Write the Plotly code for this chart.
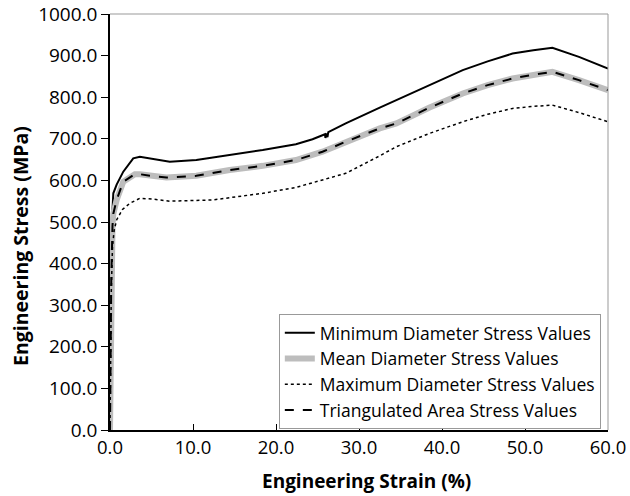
import plotly.graph_objects as go

strain_min = [0.0, 0.15, 0.3, 0.4, 0.8, 1.6, 2.8, 3.6, 4.8, 7.2, 10.4, 14.4, 18.4, 22.4, 24.4, 25.9, 25.95, 26.05, 26.2, 26.3, 28.4, 32.5, 34.5, 38.5, 42.5, 45.5, 48.5, 51.0, 53.3, 56.5, 60.0]
stress_min = [0, 380, 530, 569, 590, 621, 653, 657, 653, 645, 649, 661, 673, 687, 699, 711, 702, 713, 704, 716, 737, 775, 793, 830, 865, 886, 905, 913, 919, 897, 869]

strain_mean = [0.0, 0.15, 0.3, 0.4, 0.8, 1.6, 3.0, 3.6, 4.8, 6.8, 10.4, 14.4, 18.4, 22.4, 25.6, 28.4, 32.5, 34.5, 38.5, 42.5, 45.5, 48.5, 51.0, 53.3, 56.5, 60.0]
stress_mean = [0, 360, 490, 520, 553, 597, 615, 615, 611, 607, 611, 625, 635, 649, 669, 693, 725, 737, 775, 809, 829, 845, 854, 861, 841, 817]

strain_tri = strain_mean
stress_tri = [0, 360, 490, 520, 553, 597, 615, 615, 611, 607, 611, 625, 635, 649, 669, 693, 725, 737, 775, 809, 829, 845, 854, 861, 841, 817]

strain_max = [0.0, 0.15, 0.3, 0.5, 0.8, 1.5, 2.4, 3.6, 5.2, 7.2, 12.4, 18.4, 22.4, 25.6, 28.4, 32.5, 34.5, 38.5, 42.5, 45.5, 48.5, 51.0, 53.3, 56.5, 60.0]
stress_max = [0, 330, 440, 480, 505, 530, 545, 557, 555, 550, 553, 569, 583, 601, 617, 659, 681, 713, 741, 759, 773, 778, 781, 763, 741]

x_title = "Engineering Strain (%)"
y_title = "Engineering Stress (MPa)"

font = "Open Sans"
fig = go.Figure()
fig.add_trace(go.Scatter(x=strain_min, y=stress_min, mode="lines", name="Minimum Diameter Stress Values",
                         line=dict(color="black", width=2)))
fig.add_trace(go.Scatter(x=strain_mean, y=stress_mean, mode="lines", name="Mean Diameter Stress Values",
                         line=dict(color="#bdbdbd", width=6)))
fig.add_trace(go.Scatter(x=strain_max, y=stress_max, mode="lines", name="Maximum Diameter Stress Values",
                         line=dict(color="black", width=1.5, dash="dot")))
fig.add_trace(go.Scatter(x=strain_tri, y=stress_tri, mode="lines", name="Triangulated Area Stress Values",
                         line=dict(color="black", width=2, dash="dash")))

fig.update_layout(
    width=630, height=496,
    margin=dict(l=110, r=22, t=14, b=66, autoexpand=False),
    paper_bgcolor="white", plot_bgcolor="white",
    font=dict(family=font, size=18, color="black"),
    showlegend=True,
    legend=dict(x=0.339, y=0.279, xanchor="left", yanchor="top",
                bgcolor="white", bordercolor="#999999", borderwidth=1,
                font=dict(family=font, size=17.5, color="black"),
                itemwidth=30, tracegroupgap=0),
    xaxis=dict(range=[0, 60], tickvals=[0, 10, 20, 30, 40, 50, 60], tickformat=".1f", automargin=False,
               tickfont=dict(size=18.5),
               showgrid=False, zeroline=False, showline=True, linecolor="black", linewidth=1.5,
               ticks="inside", ticklen=6, tickcolor="black", mirror=False),
    yaxis=dict(range=[0, 1000], tickvals=[0, 100, 200, 300, 400, 500, 600, 700, 800, 900, 1000], tickformat=".1f",
               automargin=False, tickfont=dict(size=19),
               showgrid=False, zeroline=False, showline=True, linecolor="black", linewidth=1.5,
               ticks="outside", ticklen=7, tickcolor="black"),
    annotations=[
        dict(text="<b>" + x_title + "</b>", xref="paper", yref="paper", x=0.516, y=-0.123,
             xanchor="center", yanchor="middle", showarrow=False, font=dict(family=font, size=19)),
        dict(text="<b>" + y_title + "</b>", xref="paper", yref="paper", x=-0.181, y=0.442,
             xanchor="center", yanchor="middle", textangle=-90, showarrow=False, font=dict(family=font, size=19.5)),
    ],
)
# gray top/right frame
fig.add_shape(type="line", xref="paper", yref="paper", x0=0, x1=1, y0=1, y1=1, line=dict(color="#999999", width=1))
fig.add_shape(type="line", xref="paper", yref="paper", x0=1, x1=1, y0=0, y1=1, line=dict(color="#999999", width=1))

fig.write_html("out.html")
